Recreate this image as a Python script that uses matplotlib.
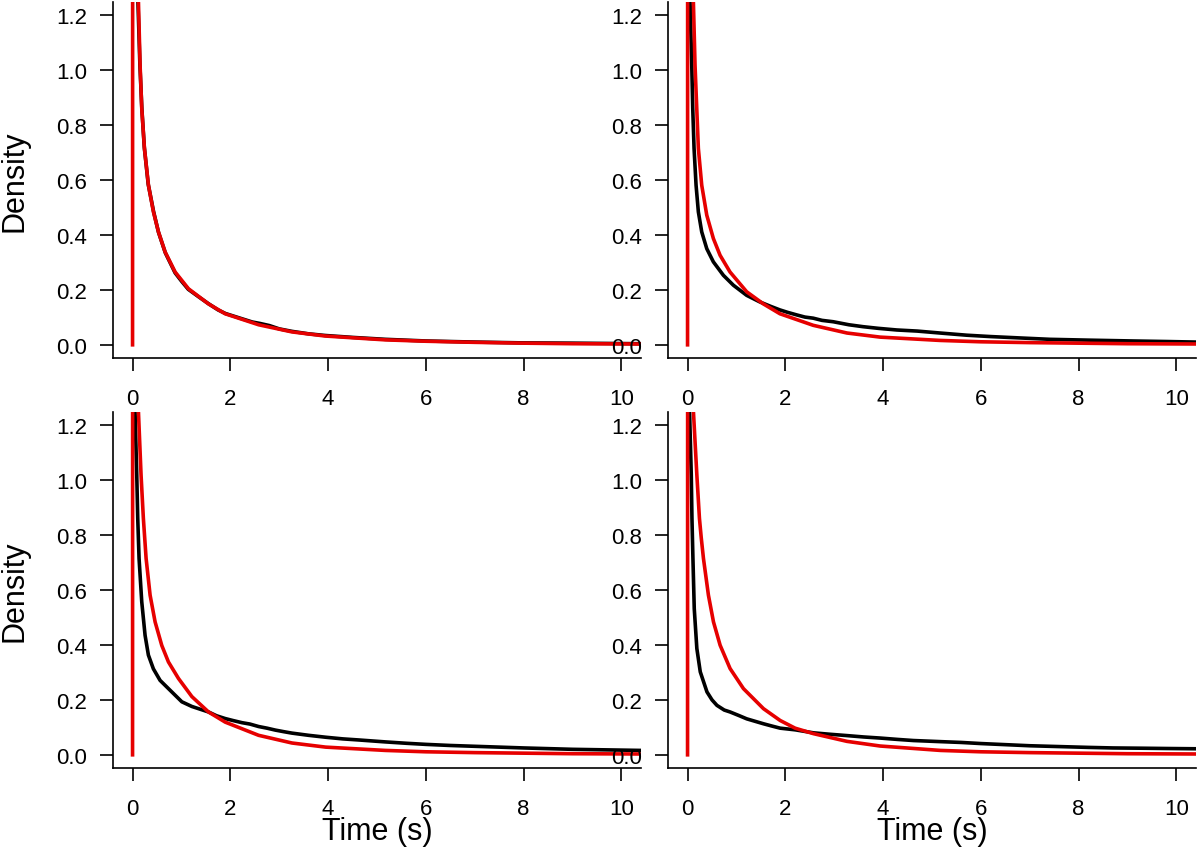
import matplotlib
matplotlib.use("Agg")
import matplotlib.pyplot as plt

plt.rcParams['font.family'] = ['Liberation Sans', 'DejaVu Sans']

# --- panel 1 (top left) ---
p1_obs_t = [0.02, 0.11, 0.15, 0.19, 0.24, 0.32, 0.43, 0.53, 0.67, 0.87, 1.0, 1.14, 1.35, 1.55,
            1.75, 1.9, 2.2, 2.45, 2.6, 2.8, 3.0, 3.26, 3.6, 3.94, 4.5, 5.17, 6.0, 7.0, 8.0, 9.0, 10.4]
p1_obs_d = [3.0, 1.25, 1.02, 0.86, 0.72, 0.585, 0.485, 0.41, 0.335, 0.262, 0.232, 0.202, 0.175, 0.150,
            0.127, 0.114, 0.097, 0.083, 0.078, 0.070, 0.058, 0.049, 0.040, 0.034, 0.027, 0.020, 0.014,
            0.010, 0.007, 0.006, 0.004]
p1_fit_t = [0.0, 0.005, 0.06, 0.12, 0.154, 0.188, 0.243, 0.325, 0.427, 0.53, 0.666, 0.871, 1.144,
            1.553, 1.895, 2.578, 3.26, 3.94, 5.17, 6.0, 7.0, 8.0, 9.0, 10.4]
p1_fit_d = [0.0, 4.0, 2.0, 1.25, 1.018, 0.861, 0.715, 0.581, 0.484, 0.411, 0.338, 0.265, 0.204,
            0.149, 0.113, 0.073, 0.047, 0.032, 0.018, 0.013, 0.009, 0.006, 0.004, 0.003]

# --- panel 2 (top right) ---
p2_obs_t = [0.02, 0.051, 0.086, 0.106, 0.133, 0.174, 0.221, 0.29, 0.393, 0.528, 0.733, 0.937, 1.21,
            1.48, 1.7, 1.89, 2.05, 2.23, 2.4, 2.57, 2.75, 2.98, 3.3, 3.59, 3.9, 4.28, 4.7, 5.16, 5.71,
            6.2, 6.8, 7.41, 8.2, 9.1, 9.8, 10.39]
p2_obs_d = [3.0, 1.25, 1.018, 0.861, 0.715, 0.581, 0.484, 0.411, 0.35, 0.302, 0.253, 0.217, 0.18,
            0.156, 0.14, 0.127, 0.118, 0.109, 0.101, 0.097, 0.089, 0.084, 0.073, 0.066, 0.06, 0.054,
            0.050, 0.043, 0.035, 0.030, 0.025, 0.020, 0.017, 0.014, 0.012, 0.010]
p2_fit_t = [0.0, 0.005, 0.06, 0.119, 0.153, 0.188, 0.221, 0.29, 0.393, 0.528, 0.665, 0.869, 1.21,
            1.55, 1.89, 2.57, 3.26, 3.94, 5.16, 6.0, 7.0, 8.0, 9.0, 10.4]
p2_fit_d = [0.0, 4.0, 2.0, 1.25, 1.018, 0.861, 0.715, 0.581, 0.472, 0.387, 0.326, 0.265, 0.193,
            0.149, 0.113, 0.071, 0.043, 0.028, 0.016, 0.011, 0.008, 0.006, 0.004, 0.003]

# --- panel 3 (bottom left) ---
p3_obs_t = [0.02, 0.051, 0.086, 0.106, 0.133, 0.188, 0.256, 0.324, 0.426, 0.563, 0.734, 0.871,
            1.008, 1.213, 1.4, 1.553, 1.72, 1.895, 2.05, 2.238, 2.4, 2.578, 2.75, 2.92, 3.1, 3.26,
            3.6, 3.95, 4.3, 4.63, 5.17, 5.6, 6.0, 6.5, 7.0, 7.5, 8.0, 8.6, 9.0, 9.7, 10.4]
p3_obs_d = [3.0, 1.25, 1.018, 0.861, 0.715, 0.557, 0.435, 0.363, 0.313, 0.271, 0.241, 0.217,
            0.193, 0.176, 0.165, 0.156, 0.142, 0.132, 0.125, 0.117, 0.112, 0.103, 0.097, 0.090,
            0.084, 0.079, 0.071, 0.064, 0.058, 0.054, 0.047, 0.042, 0.038, 0.034, 0.031, 0.028,
            0.025, 0.022, 0.020, 0.018, 0.016]
p3_fit_t = [0.0, 0.005, 0.06, 0.12, 0.174, 0.221, 0.277, 0.359, 0.461, 0.598, 0.734, 0.939, 1.213,
            1.553, 1.895, 2.578, 3.26, 3.95, 5.17, 6.0, 7.0, 8.0, 9.0, 10.4]
p3_fit_d = [0.0, 4.0, 2.0, 1.25, 1.018, 0.861, 0.715, 0.581, 0.484, 0.398, 0.338, 0.278, 0.212,
            0.156, 0.119, 0.071, 0.043, 0.028, 0.016, 0.011, 0.008, 0.006, 0.004, 0.003]

# --- panel 4 (bottom right) ---
p4_obs_t = [0.02, 0.041, 0.076, 0.09, 0.11, 0.137, 0.19, 0.26, 0.397, 0.5, 0.601, 0.75, 0.87,
            1.05, 1.21, 1.4, 1.553, 1.72, 1.894, 2.2, 2.576, 2.9, 3.26, 3.6, 3.94, 4.3, 4.62, 5.17,
            5.6, 6.0, 6.5, 7.0, 7.6, 8.2, 8.7, 9.3, 9.8, 10.4]
p4_obs_d = [3.0, 1.25, 1.019, 0.861, 0.715, 0.532, 0.387, 0.302, 0.229, 0.20, 0.18, 0.163, 0.156,
            0.143, 0.131, 0.121, 0.113, 0.105, 0.097, 0.091, 0.080, 0.075, 0.070, 0.065, 0.061,
            0.056, 0.052, 0.048, 0.045, 0.041, 0.037, 0.033, 0.030, 0.027, 0.025, 0.024, 0.023,
            0.022]
p4_fit_t = [0.0, 0.005, 0.06, 0.12, 0.19, 0.243, 0.28, 0.325, 0.427, 0.53, 0.666, 0.87,
            1.143, 1.553, 1.894, 2.2, 2.576, 3.26, 3.94, 5.17, 6.0, 7.0, 8.0, 9.0, 10.4]
p4_fit_d = [0.0, 4.0, 2.0, 1.25, 1.019, 0.861, 0.79, 0.715, 0.581, 0.484, 0.399, 0.314,
            0.241, 0.168, 0.125, 0.097, 0.077, 0.049, 0.032, 0.016, 0.011, 0.008, 0.006, 0.004,
            0.003]

x_ticks = [0, 2, 4, 6, 8, 10]
y_ticks = [0.0, 0.2, 0.4, 0.6, 0.8, 1.0, 1.2]


def draw_panel(ax, obs_t, obs_d, fit_t, fit_d):
    ax.plot(obs_t, obs_d, color='black', lw=2.6, solid_joinstyle='round')
    ax.plot(fit_t, fit_d, color='#e60000', lw=2.6, solid_joinstyle='round')
    ax.set_xlim(-0.4, 10.4)
    ax.set_ylim(-0.048, 1.248)
    ax.set_xticks(x_ticks)
    ax.set_xticklabels([str(t) for t in x_ticks])
    ax.set_yticks(y_ticks)
    ax.set_yticklabels([f'{t:.1f}' for t in y_ticks])
    for side in ('top', 'right'):
        ax.spines[side].set_visible(False)
    for side in ('left', 'bottom'):
        ax.spines[side].set_linewidth(1.2)
    ax.tick_params(axis='both', direction='out', length=9.5, width=1.2, labelsize=16)
    ax.tick_params(axis='x', pad=12)
    ax.tick_params(axis='y', pad=9)


fig = plt.figure(figsize=(12, 8.54), dpi=100)

W = 528 / 1200
H = 356 / 854
positions = [
    (113 / 1200, 1 - 359 / 854),
    (668 / 1200, 1 - 359 / 854),
    (113 / 1200, 1 - 769 / 854),
    (668 / 1200, 1 - 769 / 854),
]
panels = [
    (p1_obs_t, p1_obs_d, p1_fit_t, p1_fit_d),
    (p2_obs_t, p2_obs_d, p2_fit_t, p2_fit_d),
    (p3_obs_t, p3_obs_d, p3_fit_t, p3_fit_d),
    (p4_obs_t, p4_obs_d, p4_fit_t, p4_fit_d),
]

for (left, bottom), data in zip(positions, panels):
    ax = fig.add_axes([left, bottom, W, H])
    draw_panel(ax, *data)

# axis titles, placed like the R outer labels
fig.text(15 / 1200, 1 - 181 / 854, 'Density', rotation=90, ha='center', va='center', fontsize=22)
fig.text(15 / 1200, 1 - 591 / 854, 'Density', rotation=90, ha='center', va='center', fontsize=22)
fig.text(377 / 1200, 1 - 832 / 854, 'Time (s)', ha='center', va='center', fontsize=22)
fig.text(932 / 1200, 1 - 832 / 854, 'Time (s)', ha='center', va='center', fontsize=22)

fig.savefig('out.png', dpi=100)
